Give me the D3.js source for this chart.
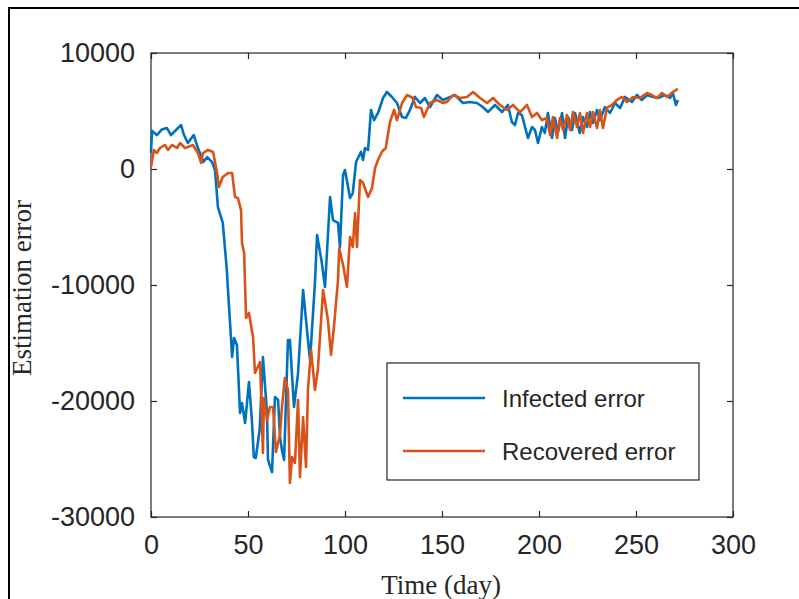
<!DOCTYPE html>
<html>
<head>
<meta charset="utf-8">
<script src="https://cdn.jsdelivr.net/npm/d3@7"></script>
<style>
    body { margin: 0; background: #fff; }
    .tick text { font-family: "Liberation Sans", Arial, sans-serif; }
</style>
</head>
<body>
<script>
//wrap everything in a self-executing anonymous function
(function(){

    //pseudo-global data arrays (day, estimation error)
    var infectedDay = [0, 0.5, 3, 5.5, 8.2, 10.3, 12.9, 15.5, 17, 19, 22, 24, 27, 29, 31.5, 33, 34.5, 37, 39, 40, 41.2, 41.8, 42.8, 44.3, 45.9, 46.9, 48.5, 50.5, 52, 53, 54, 56, 57.7, 59.8, 60.3, 62.4, 63.9, 65.5, 66.5, 67.5, 68.6, 70.6, 71.6, 73.7, 75.8, 78.4, 80.9, 82, 84.5, 85.6, 88, 89.7, 92.3, 93.8, 96.4, 97.4, 99, 100, 102.6, 104, 105.7, 106.7, 108.2, 109.3, 110.3, 111.9, 113.4, 115, 117, 119.6, 121.6, 124.2, 126.8, 129.4, 131.4, 133.5, 136, 138.7, 141.2, 143.8, 147.4, 150.5, 153, 156.7, 160.8, 164.4, 168, 171, 173.7, 177.3, 181, 184, 186, 187.6, 189.2, 191.2, 192.8, 194.3, 196.4, 197.9, 199.5, 201.5, 203, 204.6, 206.7, 208.2, 209.8, 211.9, 213.4, 215, 217, 218.6, 221, 222.7, 224.7, 226.3, 227.8, 229.9, 231.4, 234, 236.6, 239.2, 241.8, 244.3, 247.9, 250.5, 253, 255.7, 258.8, 261.3, 265, 267.5, 269, 270.6, 271.6];
    var infectedErr = [1400, 3300, 2930, 3400, 3530, 2930, 3360, 3790, 2930, 2240, 2930, 1900, 600, 1030, 600, -90, -3280, -4650, -8530, -11300, -14480, -16200, -14570, -15170, -21030, -20170, -21900, -18360, -21640, -24830, -24910, -22500, -16210, -21030, -25080, -26120, -19650, -19910, -23100, -24220, -25080, -14740, -14740, -20520, -17590, -10430, -14740, -16460, -9830, -5690, -8020, -10170, -2410, -4400, -4650, -6720, -520, -90, -2500, -2070, 600, 950, 1470, 780, 1810, 1640, 5090, 4220, 4830, 6120, 6640, 6210, 5690, 4480, 4400, 5090, 6210, 5690, 6120, 5340, 6380, 5950, 6120, 6380, 5690, 5780, 5690, 5340, 4910, 5520, 4910, 5520, 4050, 3790, 4830, 4650, 3620, 2670, 3620, 3360, 2240, 3620, 3100, 4830, 2670, 4400, 3190, 4830, 2670, 4480, 3360, 4830, 3100, 4480, 3620, 4910, 3970, 5090, 4220, 5340, 4830, 5690, 5260, 6210, 5780, 6380, 5950, 6380, 6210, 6120, 6380, 6120, 6550, 5520, 5950];

    var recoveredDay = [0, 1.5, 3, 4.6, 7.2, 8.8, 10.8, 13.4, 15, 17.5, 19, 21.6, 24.2, 25.8, 26.8, 29.4, 32, 34, 35, 37, 39.7, 41.8, 43.3, 44.8, 46.4, 46.9, 48, 49, 50.5, 52.6, 53.6, 56.2, 57.7, 58.2, 59.8, 61.3, 62.9, 64.4, 66.5, 67.5, 69, 70.6, 71.6, 72.7, 74.2, 75.8, 76.8, 78.4, 79.9, 80.9, 82.5, 84.5, 86, 88.7, 91.2, 92.8, 94.3, 96.4, 97, 99, 101, 102.6, 104, 105.2, 106.2, 107.7, 109.3, 111.9, 113.9, 115.5, 117, 119, 121, 123.2, 125.3, 126.8, 129.4, 132, 135, 136.6, 139.2, 140.7, 143.8, 147.4, 150.5, 152.6, 155.7, 159.3, 162.9, 166, 169.6, 173.2, 176.3, 179.9, 183.5, 186.6, 190.2, 193.8, 196.4, 199, 201.5, 204, 205.7, 207.2, 209.3, 210.8, 212.4, 214.4, 216, 217.5, 219.6, 221.1, 222.7, 224.7, 226.3, 227.8, 229.9, 231.4, 233, 235, 237.6, 240.2, 242.8, 245.4, 248.5, 252, 255.7, 258.2, 260.8, 263.4, 266, 269, 271.6];
    var recoveredErr = [170, 1640, 1380, 1810, 2070, 1640, 2070, 1810, 2240, 1810, 1900, 2070, 1380, 520, 1380, 1640, 1470, -260, -1550, -690, -340, -340, -2410, -2500, -3530, -6380, -7240, -12840, -12410, -14480, -17590, -16640, -24480, -19740, -21640, -20520, -20520, -24390, -22930, -20520, -18020, -19050, -27070, -24830, -25340, -19910, -26550, -21380, -25690, -19050, -15600, -19050, -17330, -10430, -13020, -16030, -13620, -9570, -6810, -8280, -10170, -5860, -6720, -3790, -6720, -950, -1210, -2410, -1640, 90, 780, 1470, 1810, 4050, 5090, 4220, 5690, 6380, 6120, 5340, 5260, 4480, 5690, 5950, 5690, 5780, 6380, 6120, 6210, 6640, 6120, 5690, 6120, 5520, 5090, 5520, 4910, 5520, 4480, 4830, 4220, 4400, 2930, 4480, 2670, 4400, 3360, 4650, 3360, 4910, 3620, 4830, 3100, 4830, 3620, 4910, 3530, 5090, 3530, 5260, 5520, 5950, 6210, 5780, 6210, 6120, 6550, 6380, 6120, 6550, 6210, 6640, 6900];

    var xTicks = [0, 50, 100, 150, 200, 250, 300];
    var yTicks = [10000, 0, -10000, -20000, -30000];
    var seriesNames = ["Infected error", "Recovered error"];
    var seriesColors = ["#0072BD", "#D95319"];

    window.onload = setChart();

    function setChart(){
        //frame dimensions
        var width = 799,
            height = 599,
            left = 151,
            right = 733,
            top = 53,
            bottom = 517;

        var svg = d3.select("body")
            .append("svg")
            .attr("width", width)
            .attr("height", height);

        //outer black frame (only top and left edges are visible)
        svg.append("path")
            .attr("d", "M9,599 L9,8 L799,8")
            .attr("fill", "none")
            .attr("stroke", "#000")
            .attr("stroke-width", 2);

        //scales
        var x = d3.scaleLinear().domain([0, 300]).range([left, right]);
        var y = d3.scaleLinear().domain([-30000, 10000]).range([bottom, top]);

        //plain number labels with ascii hyphen, no thousands separator
        var plain = function(d){ return String(d); };

        //axes box
        svg.append("rect")
            .attr("x", left)
            .attr("y", top)
            .attr("width", right - left)
            .attr("height", bottom - top)
            .attr("fill", "none")
            .attr("stroke", "#262626")
            .attr("stroke-width", 1.2);

        //bottom axis with labels, ticks inward
        var xAxis = svg.append("g")
            .attr("transform", "translate(0," + bottom + ")")
            .call(d3.axisBottom(x).tickValues(xTicks).tickSizeInner(-6).tickSizeOuter(0).tickPadding(18).tickFormat(plain));
        //top axis ticks only
        var xAxisTop = svg.append("g")
            .attr("transform", "translate(0," + top + ")")
            .call(d3.axisTop(x).tickValues(xTicks).tickSizeInner(-6).tickSizeOuter(0).tickFormat(""));
        //left axis with labels
        var yAxis = svg.append("g")
            .attr("transform", "translate(" + left + ",0)")
            .call(d3.axisLeft(y).tickValues(yTicks).tickSizeInner(-6).tickSizeOuter(0).tickPadding(16).tickFormat(plain));
        //right axis ticks only
        var yAxisRight = svg.append("g")
            .attr("transform", "translate(" + right + ",0)")
            .call(d3.axisRight(y).tickValues(yTicks).tickSizeInner(-6).tickSizeOuter(0).tickFormat(""));

        [xAxis, xAxisTop, yAxis, yAxisRight].forEach(function(g){
            g.select(".domain").remove();
            g.selectAll(".tick line").attr("stroke", "#262626").attr("stroke-width", 1.2);
            g.selectAll(".tick text")
                .attr("fill", "#262626")
                .style("font-size", "27px");
        });
        xAxis.selectAll(".tick text").attr("dy", "0.72em");

        //series lines
        var line = d3.line()
            .x(function(d){ return x(d[0]); })
            .y(function(d){ return y(d[1]); });

        var infected = infectedDay.map(function(d, i){ return [d, infectedErr[i]]; });
        var recovered = recoveredDay.map(function(d, i){ return [d, recoveredErr[i]]; });

        [infected, recovered].forEach(function(series, i){
            svg.append("path")
                .datum(series)
                .attr("d", line)
                .attr("fill", "none")
                .attr("stroke", seriesColors[i])
                .attr("stroke-width", 2.6)
                .attr("stroke-linejoin", "round");
        });

        //axis titles in serif
        svg.append("text")
            .attr("transform", "translate(31,288) rotate(-90)")
            .attr("text-anchor", "middle")
            .style("font-family", "'Liberation Serif', 'Times New Roman', serif")
            .style("font-size", "27px")
            .attr("fill", "#262626")
            .text("Estimation error");

        svg.append("text")
            .attr("x", 441)
            .attr("y", 594)
            .attr("text-anchor", "middle")
            .style("font-family", "'Liberation Serif', 'Times New Roman', serif")
            .style("font-size", "27px")
            .attr("fill", "#262626")
            .text("Time (day)");

        //legend
        var legend = svg.append("g");
        legend.append("rect")
            .attr("x", 387)
            .attr("y", 363)
            .attr("width", 312)
            .attr("height", 117)
            .attr("fill", "#fff")
            .attr("stroke", "#262626")
            .attr("stroke-width", 1.2);

        var rowY = [398, 451];
        seriesNames.forEach(function(name, i){
            legend.append("line")
                .attr("x1", 403)
                .attr("x2", 485)
                .attr("y1", rowY[i])
                .attr("y2", rowY[i])
                .attr("stroke", seriesColors[i])
                .attr("stroke-width", 2.6);
            legend.append("text")
                .attr("x", 502)
                .attr("y", rowY[i])
                .attr("dy", "0.36em")
                .style("font-family", "'Liberation Sans', Arial, sans-serif")
                .style("font-size", "24px")
                .attr("fill", "#262626")
                .text(name);
        });
    };

})();
</script>
</body>
</html>
